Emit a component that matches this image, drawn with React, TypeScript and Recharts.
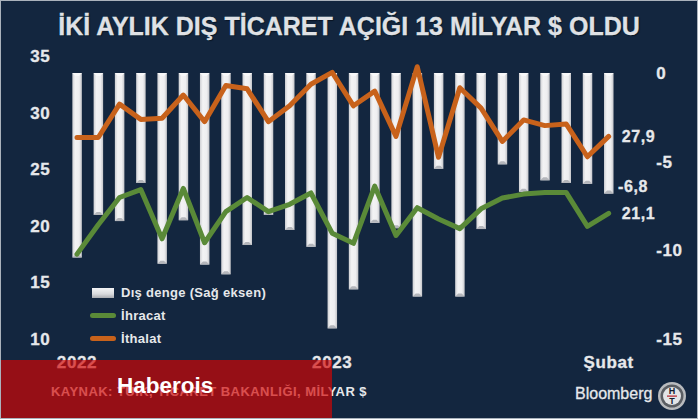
import React from "react";
import {
  ComposedChart,
  Bar,
  Line,
  XAxis,
  YAxis,
  Legend,
} from "recharts";

const months = [
  "2022", "Şub 22", "Mar 22", "Nis 22", "May 22", "Haz 22", "Tem 22", "Ağu 22", "Eyl 22", "Eki 22", "Kas 22", "Ara 22",
  "2023", "Şub 23", "Mar 23", "Nis 23", "May 23", "Haz 23", "Tem 23", "Ağu 23", "Eyl 23", "Eki 23", "Kas 23", "Ara 23",
  "Oca 24", "Şubat",
];
const monthTicks = ["2022", "2023", "Şubat"];
const balance = [
  -10.4, -8.0, -8.35, -6.2, -10.75, -8.3, -10.8, -11.35, -9.7, -8.0, -8.85, -9.8,
  -14.4, -12.2, -8.45, -8.75, -12.6, -5.4, -12.6, -8.8, -5.15, -6.7, -6.05, -6.2, -6.25, -6.8,
];
const exports_ = [
  17.5, 20.1, 22.5, 23.2, 18.85, 23.3, 18.5, 21.25, 22.5, 21.25, 21.9, 22.9,
  19.35, 18.45, 23.5, 19.15, 21.6, 20.6, 19.75, 21.5, 22.45, 22.8, 22.95, 22.95, 19.95, 21.1,
];
const imports_ = [
  27.8, 27.8, 30.75, 29.4, 29.5, 31.55, 29.2, 32.4, 32.1, 29.2, 30.6, 32.5,
  33.55, 30.6, 31.9, 27.9, 34.05, 26.05, 32.2, 30.4, 27.45, 29.35, 28.85, 29.0, 26.1, 27.9,
];
const leftTicks = [10, 15, 20, 25, 30, 35];
const rightTicks = [-15, -10, -5, 0];

const data = months.map((month, i) => ({
  month,
  balance: balance[i],
  exports: exports_[i],
  imports: imports_[i],
}));

const NAVY = "#13263f";
const GREEN = "#5a8a38";
const ORANGE = "#c8621b";
const TEXT = "#e6e8eb";
const FONT = "'Liberation Sans', Arial, sans-serif";
const last = months.length - 1;

const comma = (v: number) => v.toFixed(1).replace(".", ",");

function BevelBar(props: any) {
  const { x, y, width, height } = props;
  const top = Math.min(y, y + height);
  const h = Math.abs(height);
  const b = 3;
  return (
    <g>
      <rect x={x} y={top} width={width} height={h} fill="url(#barFill)" />
      <polygon
        points={`${x},${top} ${x + width},${top} ${x + width - b},${top + b} ${x + b},${top + b}`}
        fill="#f8f8f9"
      />
      <polygon
        points={`${x},${top + h} ${x + width},${top + h} ${x + width - b},${top + h - b} ${x + b},${top + h - b}`}
        fill="#b4b6bb"
      />
    </g>
  );
}

const tickStyle = {
  fontFamily: FONT,
  fontSize: 17,
  fontWeight: 700,
  fill: TEXT,
  stroke: TEXT,
  strokeWidth: 0.3,
  letterSpacing: 0.6,
};

function lineEndLabel(props: any) {
  const { index, x, y, value } = props;
  if (index !== last) return null;
  return (
    <text x={x + 13} y={y + 1} dominantBaseline="middle" {...tickStyle} fontSize={16}>
      {comma(value)}
    </text>
  );
}

function barEndLabel(props: any) {
  const { index, x, y, width, height, value } = props;
  if (index !== last) return null;
  return (
    <text
      x={x + width + 4.5}
      y={Math.max(y, y + height) - 6}
      dominantBaseline="middle"
      {...tickStyle}
      fontSize={16}
    >
      {comma(value)}
    </text>
  );
}

function LegendBox({ payload }: any) {
  return (
    <div style={{ fontFamily: FONT, fontSize: 13, fontWeight: 700, color: TEXT, letterSpacing: 0.3 }}>
      {(payload ?? []).map((item: any) => (
        <div key={item.value} style={{ display: "flex", alignItems: "center", height: 23 }}>
          <div style={{ width: 31, display: "flex" }}>
            {item.dataKey === "balance" ? (
              <div
                style={{
                  marginLeft: 2,
                  width: 22,
                  height: 10,
                  background: "linear-gradient(#f4f4f5, #d9dadd 60%, #a9abb0)",
                }}
              />
            ) : (
              <div style={{ width: 26, height: 5, borderRadius: 3, background: item.color }} />
            )}
          </div>
          <span>{item.value}</span>
        </div>
      ))}
    </div>
  );
}

function HtBadge() {
  return (
    <svg width={30} height={30} style={{ position: "absolute", left: 656, top: 380 }}>
      <circle cx={15} cy={15} r={14} fill="#b9bbbe" />
      <circle cx={15} cy={15} r={11.5} fill="#5a5d62" />
      <circle cx={15} cy={15} r={9} fill="#e3e4e6" />
      <rect x={10} y={14.5} width={10} height={1.2} fill="#b3202a" />
      <text x={15} y={13} textAnchor="middle" fontFamily={FONT} fontSize={9} fontWeight={700} fill="#14202f">H</text>
      <text x={15} y={23} textAnchor="middle" fontFamily={FONT} fontSize={9} fontWeight={700} fill="#14202f">T</text>
    </svg>
  );
}

export default function App() {
  return (
    <div
      style={{
        position: "absolute",
        left: 0,
        top: 0,
        width: 698,
        height: 419,
        background: NAVY,
        boxSizing: "border-box",
        border: "1px solid #aab2bc",
        overflow: "hidden",
      }}
    >
      <div style={{ position: "absolute", left: -1, top: -1 }}>
        <ComposedChart
          width={698}
          height={419}
          data={data}
          margin={{ top: 56, right: 0, bottom: 0, left: 0 }}
          barSize={9.5}
        >
          <defs>
            <linearGradient id="barFill" x1="0" y1="0" x2="1" y2="0">
              <stop offset="0%" stopColor="#cfd0d4" />
              <stop offset="30%" stopColor="#f3f3f4" />
              <stop offset="72%" stopColor="#eeeef0" />
              <stop offset="100%" stopColor="#c4c5c9" />
            </linearGradient>
          </defs>
          <XAxis
            dataKey="month"
            ticks={monthTicks}
            interval={0}
            height={80}
            axisLine={false}
            tickLine={false}
            tickSize={0}
            tickMargin={17}
            tick={tickStyle}
          />
          <YAxis
            yAxisId="left"
            width={66.35}
            domain={[10, 35]}
            ticks={leftTicks}
            interval={0}
            axisLine={false}
            tickLine={false}
            tickSize={0}
            tickMargin={16}
            tick={tickStyle}
          />
          <YAxis
            yAxisId="right"
            orientation="right"
            width={78.7}
            domain={[-15, 0.96]}
            ticks={rightTicks}
            interval={0}
            axisLine={false}
            tickLine={false}
            tickSize={0}
            tickMargin={37}
            tick={{ ...tickStyle, textAnchor: "start" }}
          />
          <Legend
            layout="vertical"
            align="center"
            verticalAlign="middle"
            content={<LegendBox />}
            wrapperStyle={{ position: "absolute", left: 90, top: 281, width: 200 }}
          />
          <Bar
            yAxisId="right"
            dataKey="balance"
            name="Dış denge (Sağ eksen)"
            fill="#e6e7e9"
            shape={<BevelBar />}
            label={barEndLabel}
            isAnimationActive={false}
          />
          <Line
            yAxisId="left"
            dataKey="exports"
            name="İhracat"
            type="linear"
            stroke={GREEN}
            strokeWidth={5}
            strokeLinecap="round"
            strokeLinejoin="round"
            dot={false}
            label={lineEndLabel}
            isAnimationActive={false}
          />
          <Line
            yAxisId="left"
            dataKey="imports"
            name="İthalat"
            type="linear"
            stroke={ORANGE}
            strokeWidth={5}
            strokeLinecap="round"
            strokeLinejoin="round"
            dot={false}
            label={lineEndLabel}
            isAnimationActive={false}
          />
        </ComposedChart>
      </div>

      <div
        style={{
          position: "absolute",
          left: 0,
          right: 0,
          top: 11,
          textAlign: "center",
          fontFamily: FONT,
          fontSize: 25,
          fontWeight: 700,
          color: "#dfe1e5",
          whiteSpace: "nowrap",
          WebkitTextStroke: "0.3px #dfe1e5",
          textShadow: "1px 1px 1px #0a1524",
        }}
      >
        İKİ AYLIK DIŞ TİCARET AÇIĞI 13 MİLYAR $ OLDU
      </div>

      <div
        style={{
          position: "absolute",
          left: 50,
          top: 383,
          fontFamily: FONT,
          fontSize: 13,
          fontWeight: 700,
          letterSpacing: 0.45,
          color: TEXT,
          whiteSpace: "nowrap",
        }}
      >
        KAYNAK: TUİK, TİCARET BAKANLIĞI, MİLYAR $
      </div>

      <div
        style={{
          position: "absolute",
          left: 574,
          top: 384,
          fontFamily: FONT,
          fontSize: 16,
          color: TEXT,
          WebkitTextStroke: "0.3px #e6e8eb",
        }}
      >
        Bloomberg
      </div>
      <HtBadge />

      <div
        style={{
          position: "absolute",
          left: -1,
          top: 359,
          width: 332,
          height: 60,
          background: "rgba(212, 4, 3, 0.68)",
        }}
      />
      <div
        style={{
          position: "absolute",
          left: 116,
          top: 372,
          fontFamily: FONT,
          fontSize: 22.5,
          fontWeight: 700,
          color: "#fff",
        }}
      >
        Haberois
      </div>
    </div>
  );
}
